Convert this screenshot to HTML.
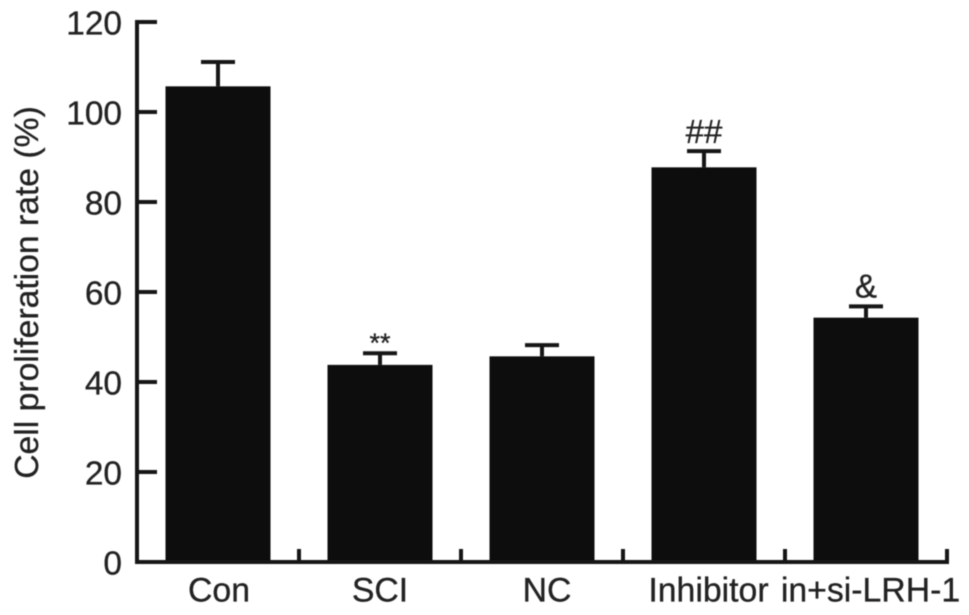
<!DOCTYPE html>
<html lang="en">
<head>
<meta charset="utf-8">
<title>Cell proliferation rate</title>
<style>
html,body{margin:0;padding:0;background:#fff;width:969px;height:615px;overflow:hidden}
svg{display:block;position:absolute;left:0;top:0}
text{font-family:"Liberation Sans",Arial,sans-serif;fill:#222;stroke:#222;stroke-width:0.3px}
</style>
</head>
<body>
<svg id="chart" xmlns="http://www.w3.org/2000/svg" width="969" height="615" viewBox="0 0 969 615">
<defs><filter id="soft" x="-5%" y="-5%" width="110%" height="110%"><feGaussianBlur stdDeviation="0.6"/></filter></defs>
<g id="root" filter="url(#soft)"></g>
</svg>
<script>
const categories = ['Con', 'SCI', 'NC', 'Inhibitor', 'in+si-LRH-1'];
const values = [105.7, 43.8, 45.7, 87.7, 54.3];
const errors = [5.4, 2.6, 2.5, 3.6, 2.5];
const annotations = ['', '**', '', '##', '&'];
const yTicks = [0, 20, 40, 60, 80, 100, 120];
const yTitle = 'Cell proliferation rate (%)';

const NS = 'http://www.w3.org/2000/svg';
const root = document.getElementById('root');
const x0 = 137, band = 162, y0 = 562, pxPerUnit = 4.5, barW = 105, capW = 34;
const ink = '#151515', barInk = '#111';
const yScale = v => y0 - v * pxPerUnit;
const xBand = i => x0 + band * i;
const xCenter = i => xBand(i) + band / 2;

function labelNudge(name) {
  if (name === 'NC') return 5;
  if (name === 'Inhibitor') return 4.5;
  if (name === 'in+si-LRH-1') return 4.5;
  return name === 'Con' ? 1 : 0;
}
function make(tag, attrs, text) {
  const el = document.createElementNS(NS, tag);
  for (const k in attrs) el.setAttribute(k, attrs[k]);
  if (text !== undefined) el.textContent = text;
  root.appendChild(el);
  return el;
}
function seg(x1, y1, x2, y2, w) {
  return make('line', {x1, y1, x2, y2, stroke: ink, 'stroke-width': w});
}

categories.forEach((c, i) => {
  const cx = xCenter(i), top = yScale(values[i]), errTop = yScale(values[i] + errors[i]);
  const stem = seg(cx, top, cx, errTop, 4);
  
  
  const cap = seg(cx - capW / 2, errTop, cx + capW / 2, errTop, 4);
  
  
  const bar = make('rect', {x: cx - barW / 2, y: top, width: barW, height: y0 - top, fill: barInk});
  
  
  const label = make('text', {x: cx + labelNudge(c), y: 601.5, 'font-size': 33.8, 'text-anchor': 'middle'}, c);
  
  
  if (annotations[i]) {
    const big = annotations[i] === '&';
    const star = annotations[i] === '**';
    const note = make('text', {
      x: cx,
      y: star ? errTop - 1 : errTop - (big ? 9 : 8),
      'font-size': star ? 27 : 33,
      'text-anchor': 'middle'
    }, annotations[i]);
    
    
  }
});

const yAxis = seg(x0, yScale(120) - 2, x0, y0 + 2, 4);


const xAxis = seg(x0 - 2, y0, xBand(categories.length) + 2, y0, 4);



yTicks.forEach(t => {
  const y = yScale(t);
  if (t > 0) {
    const tick = seg(x0, y, x0 + 20, y, 4);
    
    
  }
  const lab = make('text', {x: 122, y: y + 12.5, 'font-size': 33.4, 'text-anchor': 'end'}, String(t));
  
  
});

categories.forEach((c, i) => {
  const x = xBand(i + 1);
  const tick = seg(x, y0, x, y0 - 13, 4);
  
  
});

const title = make('text', {
  x: 0, y: 0, 'font-size': 33.7, 'text-anchor': 'middle',
  transform: 'translate(38 292.5) rotate(-90)'
}, yTitle);


</script>
</body>
</html>
